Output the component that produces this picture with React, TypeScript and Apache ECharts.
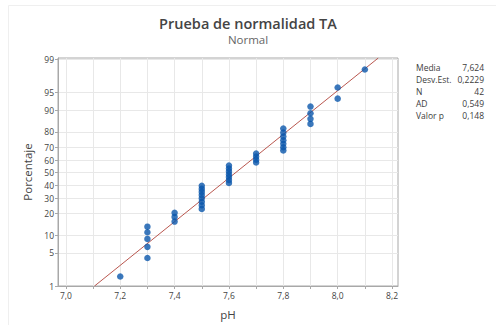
import React, { useEffect, useRef } from 'react';
import * as echarts from 'echarts';

// Observed pH values (sorted) and the plotted cumulative percentage of each point
const phValues = [
  7.2,
  7.3, 7.3, 7.3, 7.3, 7.3,
  7.4, 7.4, 7.4,
  7.5, 7.5, 7.5, 7.5, 7.5, 7.5, 7.5, 7.5,
  7.6, 7.6, 7.6, 7.6, 7.6, 7.6, 7.6,
  7.7, 7.7, 7.7, 7.7,
  7.8, 7.8, 7.8, 7.8, 7.8, 7.8, 7.8,
  7.9, 7.9, 7.9, 7.9,
  8.0, 8.0,
  8.1,
];
const percentValues = [
  1.65,
  4.0, 6.4, 8.7, 11.1, 13.4,
  15.8, 18.2, 20.5,
  22.9, 25.2, 27.6, 30.0, 32.3, 34.7, 37.0, 39.4,
  41.7, 44.1, 46.5, 48.8, 51.2, 53.5, 55.9,
  58.3, 60.6, 63.0, 65.3,
  67.7, 70.0, 72.4, 74.8, 77.1, 79.5, 81.8,
  84.2, 86.6, 88.9, 91.3,
  93.6, 96.0,
  98.3,
];

const yTickPercents = [1, 5, 10, 20, 30, 40, 50, 60, 70, 80, 90, 95, 99];
const xTickValues = [7.0, 7.1, 7.2, 7.3, 7.4, 7.5, 7.6, 7.7, 7.8, 7.9, 8.0, 8.1, 8.2];
const xLabelValues = [7.0, 7.2, 7.4, 7.6, 7.8, 8.0, 8.2];

const statLabels = ['Media', 'Desv.Est.', 'N', 'AD', 'Valor p'];
const statValues = ['7,624', '0,2229', '42', '0,549', '0,148'];
const fitMean = 7.624;
const fitSd = 0.2229;

const titleText = 'Prueba de normalidad TA';
const subtitleText = 'Normal';
const xName = 'pH';
const yName = 'Porcentaje';

// Inverse standard normal CDF (Acklam) for the probability axis
function probit(p: number): number {
  const a = [-3.969683028665376e1, 2.209460984245205e2, -2.759285104469687e2, 1.38357751867269e2, -3.066479806614716e1, 2.506628277459239];
  const b = [-5.447609879822406e1, 1.615858368580409e2, -1.556989798598866e2, 6.680131188771972e1, -1.328068155288572e1];
  const c = [-7.784894002430293e-3, -3.223964580411365e-1, -2.400758277161838, -2.549732539343734, 4.374664141464968, 2.938163982698783];
  const d = [7.784695709041462e-3, 3.224671290700398e-1, 2.445134137142996, 3.754408661907416];
  const plow = 0.02425;
  if (p < plow) {
    const q = Math.sqrt(-2 * Math.log(p));
    return (((((c[0] * q + c[1]) * q + c[2]) * q + c[3]) * q + c[4]) * q + c[5]) /
      ((((d[0] * q + d[1]) * q + d[2]) * q + d[3]) * q + 1);
  }
  if (p <= 1 - plow) {
    const q = p - 0.5;
    const r = q * q;
    return ((((((a[0] * r + a[1]) * r + a[2]) * r + a[3]) * r + a[4]) * r + a[5]) * q) /
      (((((b[0] * r + b[1]) * r + b[2]) * r + b[3]) * r + b[4]) * r + 1);
  }
  const q = Math.sqrt(-2 * Math.log(1 - p));
  return -(((((c[0] * q + c[1]) * q + c[2]) * q + c[3]) * q + c[4]) * q + c[5]) /
    ((((d[0] * q + d[1]) * q + d[2]) * q + d[3]) * q + 1);
}

const FONT = '"Open Sans", "Noto Sans", sans-serif';

export default function App() {
  const ref = useRef<HTMLDivElement>(null);

  useEffect(() => {
    if (!ref.current) return;
    const chart = echarts.init(ref.current, undefined, { renderer: 'svg' });

    const yTickZ = yTickPercents.map((p) => probit(p / 100));
    const zMin = probit(0.01);
    const zMax = 2.357;

    const points = phValues.map((x, i) => [x, probit(percentValues[i] / 100)]);
    const line = [
      [fitMean + zMin * fitSd, zMin],
      [fitMean + zMax * fitSd, zMax],
    ];

    const statGraphics: any[] = [];
    statLabels.forEach((lab, i) => {
      statGraphics.push({
        type: 'text',
        left: 416,
        top: 63 + i * 12,
        style: { text: lab, fontSize: 8.5, fontFamily: FONT, fill: '#3c3c3c' },
      });
      statGraphics.push({
        type: 'text',
        right: 12,
        top: 63 + i * 12,
        style: { text: statValues[i], fontSize: 8.5, fontFamily: FONT, fill: '#3c3c3c', align: 'right' },
      });
    });

    chart.setOption({
      animation: false,
      backgroundColor: '#ffffff',
      grid: {
        left: 58,
        right: 98,
        top: 58,
        bottom: 36,
        show: true,
        borderColor: '#a8a8a8',
        borderWidth: 1,
        backgroundColor: '#ffffff',
      },
      graphic: [
        { type: 'line', shape: { x1: 8.5, y1: 5.5, x2: 496, y2: 5.5 }, style: { stroke: '#efefef', lineWidth: 1 } },
        { type: 'line', shape: { x1: 8.5, y1: 5.5, x2: 8.5, y2: 325 }, style: { stroke: '#efefef', lineWidth: 1 } },
        {
          type: 'text',
          left: 'center',
          top: 16,
          x: 6,
          style: { text: titleText, fontSize: 14.5, fontWeight: 600, fontFamily: FONT, fill: '#444' },
        },
        {
          type: 'text',
          left: 'center',
          top: 33,
          x: 6,
          style: { text: subtitleText, fontSize: 11.5, fontFamily: FONT, fill: '#666' },
        },
        ...statGraphics,
      ],
      xAxis: {
        type: 'value',
        min: 6.971,
        max: 8.222,
        name: xName,
        nameLocation: 'middle',
        nameGap: 22,
        nameTextStyle: { fontSize: 11.5, fontFamily: FONT, color: '#444' },
        axisLine: { show: true, onZero: false, lineStyle: { color: '#a8a8a8' } },
        axisTick: { show: true, length: 3, lineStyle: { color: '#a8a8a8' }, customValues: xTickValues },
        axisLabel: {
          customValues: xLabelValues,
          fontSize: 8.5,
          fontFamily: FONT,
          color: '#444',
          margin: 5,
          formatter: (v: number) => v.toFixed(1).replace('.', ','),
        },
        splitLine: { show: true, lineStyle: { color: '#e8e8e8', width: 1 } },
      },
      yAxis: {
        type: 'value',
        min: zMin,
        max: zMax,
        name: yName,
        nameLocation: 'middle',
        nameGap: 25,
        nameTextStyle: { fontSize: 11.5, fontFamily: FONT, color: '#444' },
        axisLine: { show: true, onZero: false, lineStyle: { color: '#a8a8a8' } },
        axisTick: { show: true, length: 3, lineStyle: { color: '#a8a8a8' }, customValues: yTickZ },
        axisLabel: {
          customValues: yTickZ,
          fontSize: 8.5,
          fontFamily: FONT,
          color: '#444',
          margin: 4,
          formatter: (v: number) => {
            let best = 0;
            let bestD = Infinity;
            yTickZ.forEach((z, i) => {
              const dd = Math.abs(z - v);
              if (dd < bestD) { bestD = dd; best = i; }
            });
            return String(yTickPercents[best]);
          },
        },
        splitLine: { show: true, lineStyle: { color: '#e8e8e8', width: 1 } },
      },
      series: [
        {
          type: 'line',
          data: line,
          symbol: 'none',
          lineStyle: { color: '#b9574f', width: 1 },
          z: 2,
          silent: true,
        },
        {
          type: 'scatter',
          data: points,
          symbol: 'circle',
          symbolSize: 6.5,
          itemStyle: { color: '#0a56ab' },
          z: 3,
        },
      ],
    });

    return () => chart.dispose();
  }, []);

  return (
    <div
      ref={ref}
      style={{ position: 'fixed', left: 0, top: 0, width: 496, height: 325, background: '#fff' }}
    />
  );
}
